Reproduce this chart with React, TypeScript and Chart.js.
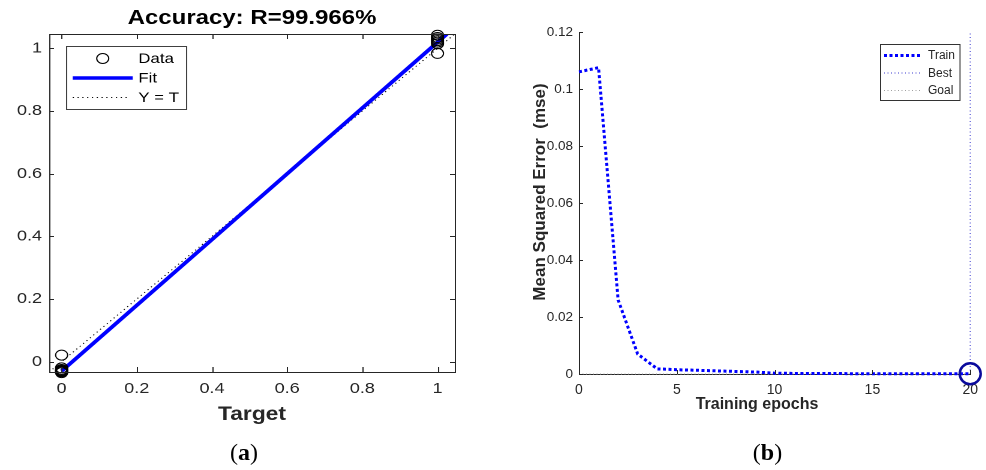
import React, { useEffect, useRef } from 'react';
import { Chart, registerables } from 'chart.js';

Chart.register(...registerables);

const FONT = "'Liberation Sans', Arial, Helvetica, sans-serif";
const AXIS_COLOR = '#262626';

// ---------- (a) regression plot ----------
const regTitle = 'Accuracy: R=99.966%';
const regXLabel = 'Target';
const regAxisMin = -0.033;
const regAxisMax = 1.046;
const regTickValues = [0, 0.2, 0.4, 0.6, 0.8, 1];
const regTickLabels = ['0', '0.2', '0.4', '0.6', '0.8', '1'];
const dataTargets = [0, 0, 0, 0, 0, 0, 0, 1, 1, 1, 1, 1, 1, 1];
const dataOutputs = [-0.035, -0.032, -0.03, -0.028, -0.025, -0.02, 0.021, 1.042, 1.035, 1.03, 1.025, 1.02, 1.015, 0.984];
const fitTargets = [0, 1.025];
const fitOutputs = [-0.03, 1.046];
const identityTargets = [-0.033, 1.046];
const identityOutputs = [-0.033, 1.046];
const regLegendLabels = ['Data', 'Fit', 'Y = T'];

// ---------- (b) performance plot ----------
const epochs = [0, 1, 2, 3, 4, 5, 6, 7, 8, 9, 10, 11, 12, 13, 14, 15, 16, 17, 18, 19, 20];
const trainMse = [0.106, 0.1075, 0.026, 0.007, 0.0018, 0.0015, 0.0013, 0.0011, 0.0009, 0.0007, 0.0003, 0.0002, 0.0002, 0.0002, 0.0001, 0.0001, 0.0001, 0.0001, 0.0001, 0.0001, 0.0001];
const bestEpoch = 20;
const bestLineMse = [0, 0.12];
const goalMse = 0;
const mseMin = 0;
const mseMax = 0.12;
const mseTickValues = [0, 0.02, 0.04, 0.06, 0.08, 0.1, 0.12];
const mseTickLabels = ['0', '0.02', '0.04', '0.06', '0.08', '0.1', '0.12'];
const epochMin = 0;
const epochMax = 20;
const epochTickValues = [0, 5, 10, 15, 20];
const epochTickLabels = ['0', '5', '10', '15', '20'];
const perfXLabel = 'Training epochs';
const perfYLabel = 'Mean Squared Error  (mse)';
const perfLegendLabels = ['Train', 'Best', 'Goal'];

const panelLabels = ['a', 'b'];

function inwardTicks(id: string, box: boolean, lenX: number, lenY: number) {
  return {
    id,
    afterDatasetsDraw(chart: any) {
      const { ctx, chartArea: a } = chart;
      const xs = chart.scales.x;
      const ys = chart.scales.y;
      ctx.save();
      ctx.strokeStyle = AXIS_COLOR;
      ctx.lineWidth = 1;
      ctx.setLineDash([]);
      ctx.beginPath();
      xs.ticks.forEach((t: any) => {
        const px = Math.round(xs.getPixelForValue(t.value)) + 0.5;
        ctx.moveTo(px, a.bottom);
        ctx.lineTo(px, a.bottom - lenX);
        if (box) {
          ctx.moveTo(px, a.top);
          ctx.lineTo(px, a.top + lenX);
        }
      });
      ys.ticks.forEach((t: any) => {
        const py = Math.round(ys.getPixelForValue(t.value)) + 0.5;
        ctx.moveTo(a.left, py);
        ctx.lineTo(a.left + lenY, py);
        if (box) {
          ctx.moveTo(a.right, py);
          ctx.lineTo(a.right - lenY, py);
        }
      });
      ctx.stroke();
      if (box) {
        ctx.strokeRect(Math.round(a.left) + 0.5, Math.round(a.top) + 0.5, Math.round(a.right - a.left), Math.round(a.bottom - a.top));
      }
      ctx.restore();
    },
  };
}

const regLegendPlugin = {
  id: 'regLegend',
  afterDraw(chart: any) {
    const ctx = chart.ctx;
    const ds = chart.data.datasets;
    ctx.save();
    ctx.fillStyle = '#ffffff';
    ctx.fillRect(55, 46, 100, 63);
    ctx.strokeStyle = '#404040';
    ctx.lineWidth = 1;
    ctx.strokeRect(55.5, 46.5, 100, 63);
    const rows = [58.5, 78, 97.5];
    // Data
    ctx.beginPath();
    ctx.strokeStyle = ds[0].borderColor;
    ctx.lineWidth = ds[0].borderWidth;
    ctx.arc(85.6, rows[0], ds[0].pointRadius, 0, Math.PI * 2);
    ctx.stroke();
    // Fit
    ctx.beginPath();
    ctx.strokeStyle = ds[1].borderColor;
    ctx.lineWidth = ds[1].borderWidth;
    ctx.moveTo(60.6, rows[1]);
    ctx.lineTo(110.6, rows[1]);
    ctx.stroke();
    // Y = T
    ctx.beginPath();
    ctx.strokeStyle = ds[2].borderColor;
    ctx.lineWidth = ds[2].borderWidth;
    ctx.setLineDash(ds[2].borderDash);
    ctx.moveTo(60.6, rows[2]);
    ctx.lineTo(107, rows[2]);
    ctx.stroke();
    ctx.setLineDash([]);
    ctx.fillStyle = '#000000';
    ctx.font = `14px ${FONT}`;
    ctx.textAlign = 'left';
    ctx.textBaseline = 'middle';
    regLegendLabels.forEach((l, i) => ctx.fillText(l, 115.3, rows[i] + 0.5));
    ctx.restore();
  },
};

const perfExtrasPlugin = {
  id: 'perfExtras',
  afterDraw(chart: any) {
    const ctx = chart.ctx;
    const ds = chart.data.datasets;
    ctx.save();
    // axis titles
    ctx.fillStyle = AXIS_COLOR;
    ctx.font = `bold 16px ${FONT}`;
    ctx.textAlign = 'center';
    ctx.textBaseline = 'alphabetic';
    ctx.fillText(perfXLabel, 257, 408.5);
    ctx.save();
    ctx.font = `bold 17px ${FONT}`;
    ctx.translate(45, 192);
    ctx.rotate(-Math.PI / 2);
    ctx.fillText(perfYLabel, 0, 0);
    ctx.restore();
    // legend
    ctx.fillStyle = '#ffffff';
    ctx.fillRect(380.5, 44, 80, 56.5);
    ctx.strokeStyle = '#333333';
    ctx.lineWidth = 1;
    ctx.strokeRect(380.5, 44.5, 79.5, 56);
    const rows = [55.5, 73, 90.5];
    [0, 1, 2].forEach((k, i) => {
      ctx.beginPath();
      ctx.strokeStyle = ds[k].borderColor;
      ctx.lineWidth = ds[k].borderWidth;
      ctx.setLineDash(ds[k].borderDash || []);
      ctx.moveTo(384, rows[i]);
      ctx.lineTo(422, rows[i]);
      ctx.stroke();
    });
    ctx.setLineDash([]);
    ctx.fillStyle = AXIS_COLOR;
    ctx.font = `12px ${FONT}`;
    ctx.textAlign = 'left';
    ctx.textBaseline = 'middle';
    perfLegendLabels.forEach((l, i) => ctx.fillText(l, 428, rows[i] + 0.5));
    ctx.restore();
  },
};

function RegressionChart() {
  const ref = useRef<HTMLCanvasElement | null>(null);
  useEffect(() => {
    if (!ref.current) return;
    const chart = new Chart(ref.current, {
      type: 'scatter',
      data: {
        datasets: [
          {
            label: regLegendLabels[0],
            data: dataTargets.map((t, i) => ({ x: t, y: dataOutputs[i] })),
            pointStyle: 'circle',
            pointRadius: 5,
            borderColor: '#000000',
            borderWidth: 1,
            backgroundColor: 'rgba(0,0,0,0)',
            showLine: false,
            clip: false as any,
            order: 0,
          },
          {
            label: regLegendLabels[1],
            data: fitTargets.map((t, i) => ({ x: t, y: fitOutputs[i] })),
            showLine: true,
            borderColor: '#0000ff',
            borderWidth: 3.5,
            pointRadius: 0,
            clip: 0 as any,
            order: 1,
          },
          {
            label: regLegendLabels[2],
            data: identityTargets.map((t, i) => ({ x: t, y: identityOutputs[i] })),
            showLine: true,
            borderColor: '#000000',
            borderWidth: 1,
            borderDash: [1, 3],
            pointRadius: 0,
            clip: 0 as any,
            order: 2,
          },
        ],
      },
      options: {
        animation: false,
        responsive: false,
        maintainAspectRatio: false,
        devicePixelRatio: 2,
        layout: { padding: { left: 0, right: 21, top: 0, bottom: 0 } },
        plugins: {
          legend: { display: false },
          tooltip: { enabled: false },
          title: {
            display: true,
            text: regTitle,
            fullSize: false,
            color: '#000000',
            font: { family: FONT, size: 20, weight: 'bold', lineHeight: 1.2 },
            padding: { top: 6.5, bottom: 3.5 },
          },
        },
        scales: {
          x: {
            type: 'linear',
            position: 'bottom',
            min: regAxisMin,
            max: regAxisMax,
            grid: { display: false, drawTicks: false },
            border: { display: false },
            afterBuildTicks: (s: any) => {
              s.ticks = regTickValues.map((v) => ({ value: v }));
            },
            afterFit: (s: any) => {
              s.height = 98;
            },
            ticks: {
              padding: 8,
              color: AXIS_COLOR,
              font: { family: FONT, size: 15 },
              maxRotation: 0,
              autoSkip: false,
              callback: (_v: any, i: number) => regTickLabels[i],
            },
            title: {
              display: true,
              text: regXLabel,
              color: AXIS_COLOR,
              font: { family: FONT, size: 19, weight: 'bold', lineHeight: 1.2 },
              padding: { top: 0, bottom: 44 },
            },
          },
          y: {
            type: 'linear',
            min: regAxisMin,
            max: regAxisMax,
            grid: { display: false, drawTicks: false },
            border: { display: false },
            afterBuildTicks: (s: any) => {
              s.ticks = regTickValues.map((v) => ({ value: v }));
            },
            afterFit: (s: any) => {
              s.width = 41;
            },
            ticks: {
              padding: 6,
              color: AXIS_COLOR,
              font: { family: FONT, size: 15 },
              autoSkip: false,
              callback: (_v: any, i: number) => regTickLabels[i],
            },
          },
        },
      } as any,
      plugins: [inwardTicks('regTicks', true, 5, 4), regLegendPlugin],
    });
    return () => chart.destroy();
  }, []);
  return (
    <div style={{ position: 'absolute', left: 0, top: 0, width: 400, height: 470, transform: 'scaleX(1.2)', transformOrigin: '0 0' }}>
      <canvas ref={ref} width={400} height={470} />
    </div>
  );
}

function PerformanceChart() {
  const ref = useRef<HTMLCanvasElement | null>(null);
  useEffect(() => {
    if (!ref.current) return;
    const chart = new Chart(ref.current, {
      type: 'scatter',
      data: {
        datasets: [
          {
            label: perfLegendLabels[0],
            data: epochs.map((e, i) => ({ x: e, y: trainMse[i] })),
            showLine: true,
            borderColor: '#0000ff',
            borderWidth: 3,
            borderDash: [3, 2.5],
            borderCapStyle: 'butt',
            pointRadius: 0,
            tension: 0,
            clip: false as any,
            order: 1,
          },
          {
            label: perfLegendLabels[1],
            data: bestLineMse.map((m) => ({ x: bestEpoch, y: m })),
            showLine: true,
            borderColor: '#3c3cd0',
            borderWidth: 1,
            borderDash: [1, 2.5],
            pointRadius: 0,
            clip: false as any,
            order: 2,
          },
          {
            label: perfLegendLabels[2],
            data: [epochMin, epochMax].map((e) => ({ x: e, y: goalMse })),
            showLine: true,
            borderColor: '#a0a0a0',
            borderWidth: 1,
            borderDash: [1, 2.5],
            pointRadius: 0,
            clip: false as any,
            order: 3,
          },
          {
            label: 'Best point',
            data: [{ x: bestEpoch, y: trainMse[epochs.indexOf(bestEpoch)] }],
            showLine: false,
            pointStyle: 'circle',
            pointRadius: 10.5,
            borderColor: '#0a0a9c',
            borderWidth: 2.5,
            backgroundColor: 'rgba(0,0,0,0)',
            clip: false as any,
            order: 0,
          },
        ],
      },
      options: {
        animation: false,
        responsive: false,
        maintainAspectRatio: false,
        layout: { padding: { left: 0, right: 15, top: 32, bottom: 0 } },
        plugins: {
          legend: { display: false },
          tooltip: { enabled: false },
          title: { display: false },
        },
        scales: {
          x: {
            type: 'linear',
            position: 'bottom',
            min: epochMin,
            max: epochMax,
            grid: { display: false, drawTicks: false },
            border: { display: true, color: AXIS_COLOR, width: 1 },
            afterBuildTicks: (s: any) => {
              s.ticks = epochTickValues.map((v) => ({ value: v }));
            },
            afterFit: (s: any) => {
              s.height = 96;
            },
            ticks: {
              padding: 8,
              color: AXIS_COLOR,
              font: { family: FONT, size: 14 },
              maxRotation: 0,
              autoSkip: false,
              callback: (_v: any, i: number) => epochTickLabels[i],
            },
          },
          y: {
            type: 'linear',
            min: mseMin,
            max: mseMax,
            grid: { display: false, drawTicks: false },
            border: { display: true, color: AXIS_COLOR, width: 1 },
            afterBuildTicks: (s: any) => {
              s.ticks = mseTickValues.map((v) => ({ value: v }));
            },
            afterFit: (s: any) => {
              s.width = 79;
            },
            ticks: {
              padding: 6,
              color: AXIS_COLOR,
              font: { family: FONT, size: 13.5 },
              autoSkip: false,
              callback: (_v: any, i: number) => mseTickLabels[i],
            },
          },
        },
      } as any,
      plugins: [inwardTicks('perfTicks', false, 4, 4), perfExtrasPlugin],
    });
    return () => chart.destroy();
  }, []);
  return (
    <div style={{ position: 'absolute', left: 500, top: 0, width: 486, height: 470 }}>
      <canvas ref={ref} width={486} height={470} />
    </div>
  );
}

function PanelLabel({ letter, cx }: { letter: string; cx: number }) {
  return (
    <div
      style={{
        position: 'absolute',
        left: cx - 40,
        top: 438,
        width: 80,
        height: 28,
        lineHeight: '28px',
        textAlign: 'center',
        fontFamily: "'Liberation Serif', 'Times New Roman', serif",
        fontSize: 24,
        color: '#000',
      }}
    >
      (<b>{letter}</b>)
    </div>
  );
}

export default function App() {
  return (
    <div style={{ position: 'absolute', left: 0, top: 0, width: 986, height: 470, background: '#ffffff', overflow: 'hidden' }}>
      <RegressionChart />
      <PerformanceChart />
      <PanelLabel letter={panelLabels[0]} cx={244} />
      <PanelLabel letter={panelLabels[1]} cx={767.5} />
    </div>
  );
}
